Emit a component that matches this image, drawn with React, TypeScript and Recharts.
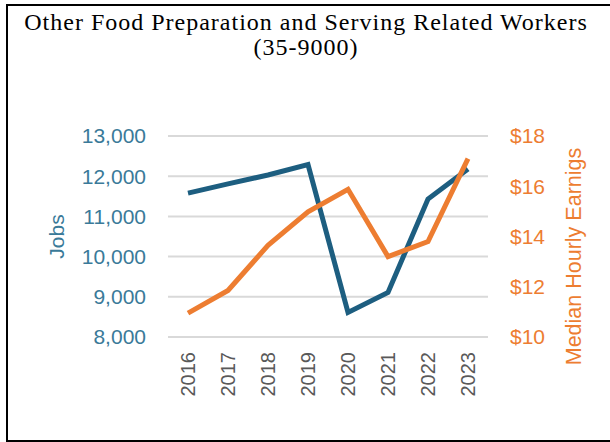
import React from "react"
import {
  LineChart,
  Line,
  XAxis,
  YAxis,
  CartesianGrid,
} from "recharts"

const years = ["2016", "2017", "2018", "2019", "2020", "2021", "2022", "2023"]
const jobs = [11580, 11810, 12030, 12290, 8610, 9110, 11430, 12180]
const earnings = [10.95, 11.85, 13.65, 14.98, 15.88, 13.2, 13.8, 17.1]
const jobsTicks = [8000, 9000, 10000, 11000, 12000, 13000]
const earningsTicks = [10, 12, 14, 16, 18]

const data = years.map((year, i) => ({ year, jobs: jobs[i], earnings: earnings[i] }))

const BLUE_LINE = "#1D5E80"
const BLUE_TEXT = "#3A7A99"
const ORANGE = "#ED7D31"
const SANS = "'Liberation Sans', Arial, sans-serif"

function YearTick({ x, y, payload }: any) {
  return (
    <text
      x={x}
      y={y}
      transform={`rotate(-90 ${x} ${y})`}
      textAnchor="end"
      dominantBaseline="central"
      fontFamily={SANS}
      fontSize={20}
      fill="#595959"
    >
      {payload.value}
    </text>
  )
}

// rotated axis title, dx from the axis box's left edge, dy from its middle
function AxisTitle({ viewBox, value, dx, dy = 0, size = 21, color }: any) {
  const cx = viewBox.x + dx
  const cy = viewBox.y + viewBox.height / 2 + dy
  return (
    <text
      x={cx}
      y={cy}
      transform={`rotate(-90 ${cx} ${cy})`}
      textAnchor="middle"
      dominantBaseline="central"
      fontFamily={SANS}
      fontSize={size}
      fill={color}
    >
      {value}
    </text>
  )
}

export default function App() {
  return (
    <div
      style={{
        position: "fixed",
        left: 0,
        top: 0,
        width: 610,
        height: 442,
        background: "#fff",
        overflow: "hidden",
      }}
    >
      <div
        style={{
          position: "absolute",
          left: 6,
          top: 4,
          width: 620,
          height: 434,
          borderTop: "2px solid #000",
          borderLeft: "2px solid #000",
          borderBottom: "2px solid #000",
        }}
      />
      <div
        style={{
          position: "absolute",
          left: 1,
          top: 10,
          width: 610,
          textAlign: "center",
          fontFamily: "'Liberation Serif', 'Times New Roman', serif",
          fontSize: 24,
          lineHeight: "25px",
          letterSpacing: 1,
          color: "#000",
        }}
      >
        <div>Other Food Preparation and Serving Related Workers</div>
        <div>(35-9000)</div>
      </div>
      <div style={{ position: "absolute", left: 0, top: 0 }}>
        <LineChart
          width={610}
          height={442}
          data={data}
          margin={{ top: 136, right: 0, bottom: 35, left: 0 }}
        >
          <CartesianGrid
            yAxisId="left"
            horizontal
            vertical={false}
            stroke="#D9D9D9"
            strokeWidth={2}
          />
          <XAxis
            dataKey="year"
            tick={<YearTick />}
            tickLine={false}
            axisLine={false}
            tickSize={0}
            tickMargin={15}
            height={70}
            padding={{ left: 20, right: 20 }}
            interval={0}
          />
          <YAxis
            yAxisId="left"
            width={168}
            domain={[8000, 13000]}
            ticks={jobsTicks}
            tickFormatter={(v) => Number(v).toLocaleString("en-US")}
            tick={{ fontSize: 21, fill: BLUE_TEXT, fontFamily: SANS }}
            tickLine={false}
            axisLine={false}
            tickSize={0}
            tickMargin={22}
            label={<AxisTitle value="Jobs" dx={56} color={BLUE_TEXT} />}
          />
          <YAxis
            yAxisId="right"
            orientation="right"
            width={122}
            domain={[10, 18]}
            ticks={earningsTicks}
            tickFormatter={(v) => `$${v}`}
            tick={{ fontSize: 21, fill: ORANGE, fontFamily: SANS }}
            tickLine={false}
            axisLine={false}
            tickSize={0}
            tickMargin={22}
            label={
              <AxisTitle
                value="Median Hourly Earnigs"
                dx={86}
                dy={20}
                size={21.5}
                color={ORANGE}
              />
            }
          />
          <Line
            yAxisId="left"
            type="linear"
            dataKey="jobs"
            stroke={BLUE_LINE}
            strokeWidth={5}
            dot={false}
            isAnimationActive={false}
          />
          <Line
            yAxisId="right"
            type="linear"
            dataKey="earnings"
            stroke={ORANGE}
            strokeWidth={5}
            dot={false}
            isAnimationActive={false}
          />
        </LineChart>
      </div>
    </div>
  )
}
